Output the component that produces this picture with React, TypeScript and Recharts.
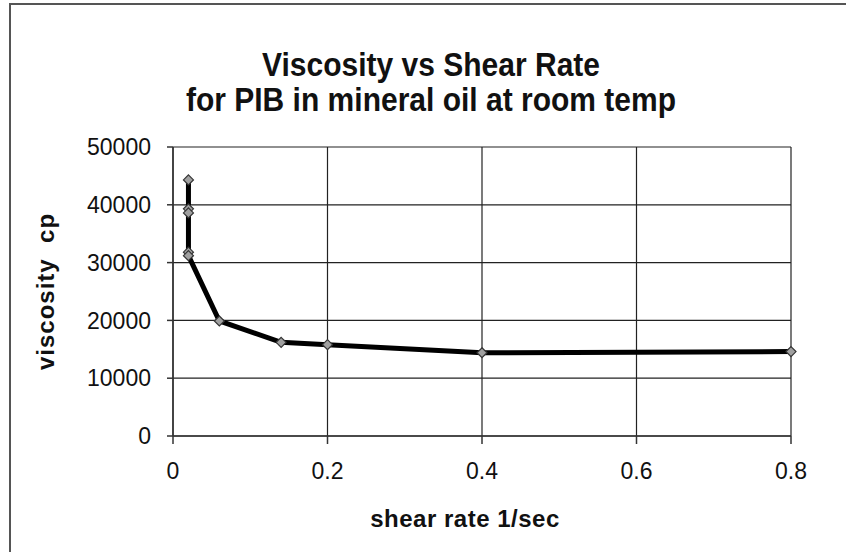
import React from "react";
import {
  LineChart,
  Line,
  XAxis,
  YAxis,
  CartesianGrid,
  Label,
} from "recharts";

// values
const shearRate = [0.02, 0.02, 0.02, 0.02, 0.02, 0.06, 0.14, 0.2, 0.4, 0.8];
const viscosity = [44300, 39300, 38600, 31800, 31200, 19900, 16200, 15800, 14400, 14600];
const xTicks = [0, 0.2, 0.4, 0.6, 0.8];
const yTicks = [0, 10000, 20000, 30000, 40000, 50000];

const chartData = shearRate.map((x, i) => ({ x, y: viscosity[i] }));

const FONT = '"Liberation Sans", Arial, sans-serif';

const Diamond = (props: any) => {
  const { cx, cy } = props;
  if (cx == null || cy == null) return null;
  const r = 5;
  return (
    <path
      d={`M${cx},${cy - r} L${cx + r},${cy} L${cx},${cy + r} L${cx - r},${cy} Z`}
      fill="#a0a0a0"
      stroke="#333"
      strokeWidth={1.2}
    />
  );
};

const YTitle = (props: any) => {
  const vb = props.viewBox || {};
  const cx = vb.x - 48;
  const cy = vb.y + vb.height / 2;
  return (
    <text
      x={cx}
      y={cy}
      transform={`rotate(-90 ${cx} ${cy})`}
      textAnchor="middle"
      dominantBaseline="central"
      style={{
        fontFamily: FONT,
        fontSize: 24,
        fontWeight: "bold",
        whiteSpace: "pre",
        letterSpacing: 1,
      }}
      fill="#111"
    >
      {"viscosity  cp"}
    </text>
  );
};

export default function App() {
  return (
    <div
      style={{
        position: "absolute",
        left: 0,
        top: 0,
        width: 846,
        height: 552,
        overflow: "hidden",
        background: "#fff",
      }}
    >
      <div
        style={{
          position: "absolute",
          left: 9,
          top: 3,
          width: 900,
          height: 600,
          borderLeft: "2px solid #555",
          borderTop: "2px solid #555",
        }}
      />
      <div
        style={{
          position: "absolute",
          left: 0,
          width: 862,
          top: 47,
          textAlign: "center",
          fontFamily: FONT,
          fontWeight: "bold",
          fontSize: 30,
          lineHeight: "31px",
          color: "#111",
          transform: "scaleY(1.12)",
          transformOrigin: "top",
        }}
      >
        <div>Viscosity vs Shear Rate</div>
        <div>for PIB in mineral oil at room temp</div>
      </div>
      <div style={{ position: "absolute", left: 0, top: 0 }}>
        <LineChart
          width={846}
          height={552}
          data={chartData}
          margin={{ top: 147, right: 55, left: 93, bottom: 86 }}
        >
          <CartesianGrid stroke="#222" strokeWidth={1.2} />
          <XAxis
            dataKey="x"
            type="number"
            domain={[0, 0.8]}
            ticks={xTicks}
            tickFormatter={(v: number) => String(v)}
            height={30}
            tickSize={8}
            tickMargin={19}
            axisLine={{ stroke: "#333", strokeWidth: 1.5 }}
            tickLine={{ stroke: "#333", strokeWidth: 1.5 }}
            tick={{ fill: "#111", fontSize: 23, fontFamily: FONT }}
          >
            <Label
              value="shear rate 1/sec"
              position="bottom"
              offset={44}
              dx={-17}
              style={{
                fontFamily: FONT,
                fontSize: 24,
                fontWeight: "bold",
                fill: "#111",
                letterSpacing: 0.5,
              }}
            />
          </XAxis>
          <YAxis
            dataKey="y"
            type="number"
            domain={[0, 50000]}
            ticks={yTicks}
            width={80}
            tickSize={6}
            tickMargin={16}
            axisLine={{ stroke: "#333", strokeWidth: 1.5 }}
            tickLine={{ stroke: "#333", strokeWidth: 1.5 }}
            tick={{ fill: "#111", fontSize: 23, fontFamily: FONT }}
          >
            <Label content={<YTitle />} />
          </YAxis>
          <Line
            type="linear"
            dataKey="y"
            stroke="#000"
            strokeWidth={5}
            dot={<Diamond />}
            isAnimationActive={false}
          />
        </LineChart>
      </div>
    </div>
  );
}
